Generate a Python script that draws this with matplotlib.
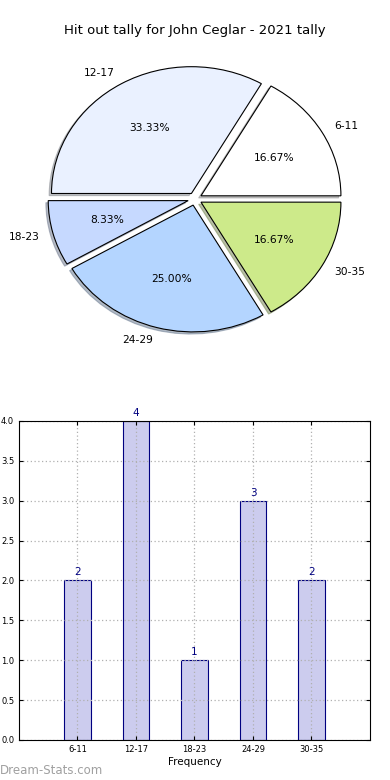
import matplotlib
matplotlib.use("Agg")
import matplotlib.pyplot as plt
import numpy as np

categories = ["6-11", "12-17", "18-23", "24-29", "30-35"]
counts = [2, 4, 1, 3, 2]
pie_colors = ["#ffffff", "#eaf1ff", "#c6d9ff", "#b4d5ff", "#cdea8a"]
title = "Hit out tally for John Ceglar - 2021 tally"
yticks = [0.0, 0.5, 1.0, 1.5, 2.0, 2.5, 3.0, 3.5, 4.0]

plt.rcParams['font.family'] = ['DejaVu Sans']
fig = plt.figure(figsize=(3.9, 7.8), dpi=100)
fig.patch.set_facecolor("white")

# Pie
ax1 = fig.add_axes([0.0513, 0.5417, 0.897, 0.4064])
wedges, texts, autotexts = ax1.pie(
    counts, labels=categories, colors=pie_colors, explode=[0.05] * len(counts),
    autopct="%1.2f%%", shadow={'ox': -0.012, 'oy': -0.012, 'shade': 0.45},
    startangle=0,
    wedgeprops=dict(edgecolor="black", linewidth=0.8),
    textprops=dict(fontsize=7.7))
ax1.set_aspect('auto')
ax1.set_xlim(-1.25, 1.25)
ax1.set_ylim(-1.25, 1.25)
ax1.set_axis_off()
fig.text(0.5, 0.961, title, ha="center", va="center", fontsize=9.5)

# Bar
ax2 = fig.add_axes([0.0487, 0.0513, 0.9, 0.409])
x = np.arange(1, len(categories) + 1)
bars = ax2.bar(x, counts, width=0.45, color="#ccccee", edgecolor="#000080", linewidth=0.8, zorder=2)
for xi, c in zip(x, counts):
    ax2.text(xi, c + 0.04, str(c), ha="center", va="bottom", fontsize=7.5, color="#000080")
ax2.set_xlim(0, 6)
ax2.set_ylim(0, 4)
ax2.set_xticks(x)
ax2.set_xticklabels(categories)
ax2.set_yticks(yticks)
ax2.set_yticklabels(["%.1f" % v for v in yticks])
ax2.tick_params(direction="in", labelsize=6, top=True, right=True, length=3)
ax2.grid(True, linestyle=(0, (1, 2)), color="#b0b0b0", linewidth=0.9, zorder=3)
ax2.set_axisbelow(False)
ax2.set_xlabel("Frequency", fontsize=7.5, labelpad=2)
for s in ax2.spines.values():
    s.set_linewidth(0.8)
    s.set_zorder(5)

fig.text(0.0, 0.0128, "Dream-Stats.com", ha="left", va="center", fontsize=8.5, color="#a0a0a0")

fig.savefig("out.png", dpi=100)
